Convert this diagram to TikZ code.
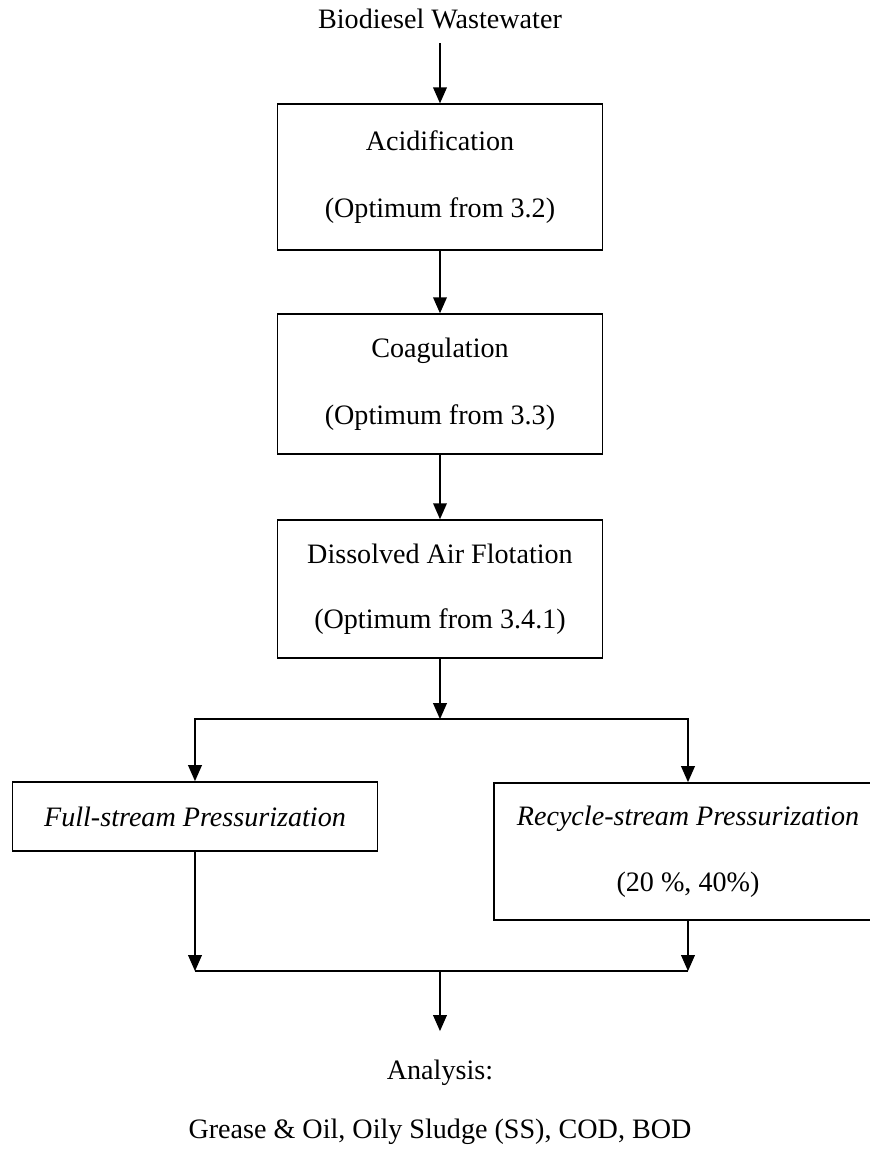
\documentclass[tikz,border=0pt]{standalone}
\usepackage{fontspec}
\setmainfont{Liberation Serif}
\usetikzlibrary{arrows.meta,positioning}
\newcommand{\optfrom}[1]{(Optimum from #1)}

\begin{document}
\begin{tikzpicture}[
  >={Triangle[length=0.32cm,width=0.27cm]},
  font=\fontsize{16}{19}\selectfont,
  box/.style={draw, line width=1.1pt, minimum width=6.5cm,
              minimum height=2.8cm, align=center},
  lbl/.style={inner sep=0pt, text height=1.5ex, text depth=.25ex},
  arr/.style={->, line width=1.1pt},
  flow/.style={line width=1.1pt},
]

\useasboundingbox (-8.8,0.46) rectangle (8.6,-22.56);
\clip (-8.8,0.46) rectangle (8.6,-22.56);

% Feed
\node[lbl] (feed) {Biodiesel Wastewater};

% Pretreatment steps
\node[box, minimum height=2.92cm, below=1.46cm of feed] (acid) {Acidification\\[0.67cm]\optfrom{3.2}};
\node[box, below=1.24cm of acid] (coag) {Coagulation\\[0.67cm]\optfrom{3.3}};
\node[box, minimum height=2.76cm, below=1.28cm of coag] (daf) {Dissolved Air Flotation\\[0.65cm]\optfrom{3.4.1}};

% Two pressurization modes
\coordinate[below=1.2cm of daf] (split);
\node[box, minimum width=7.3cm, minimum height=1.38cm, below=1.24cm of split, xshift=-4.9cm] (full) {\itshape Full-stream Pressurization};
\node[box, minimum width=7.76cm, minimum height=2.74cm, below=1.26cm of split, xshift=4.96cm] (recyc) {{\itshape Recycle-stream Pressurization}\\[0.65cm](20 \%, 40\%)};

% Merge
\coordinate[below=1cm of recyc] (joinR);
\coordinate (join) at (split |- joinR);

% Analysis
\node[lbl, below=1.92cm of join] (anl) {Analysis:};
\node[lbl, below=0.88cm of anl] (params) {Grease \& Oil, Oily Sludge (SS), COD, BOD};

% feed -> steps
\draw[arr, shorten <=0.26cm] (feed) -- (acid);
\draw[arr] (acid) -- (coag);
\draw[arr] (coag) -- (daf);
\draw[arr] (daf) -- (split);

% split -> modes
\draw[arr] (split) -| (full);
\draw[arr] (split) -| (recyc);

% modes -> merge
\draw[arr] (full) -- (full |- joinR);
\draw[arr] (recyc) -- (joinR);
\draw[flow] (full |- joinR) -- (joinR);

% merge -> analysis
\draw[arr, shorten >=0.72cm] (join) -- (anl);

\end{tikzpicture}
\end{document}
